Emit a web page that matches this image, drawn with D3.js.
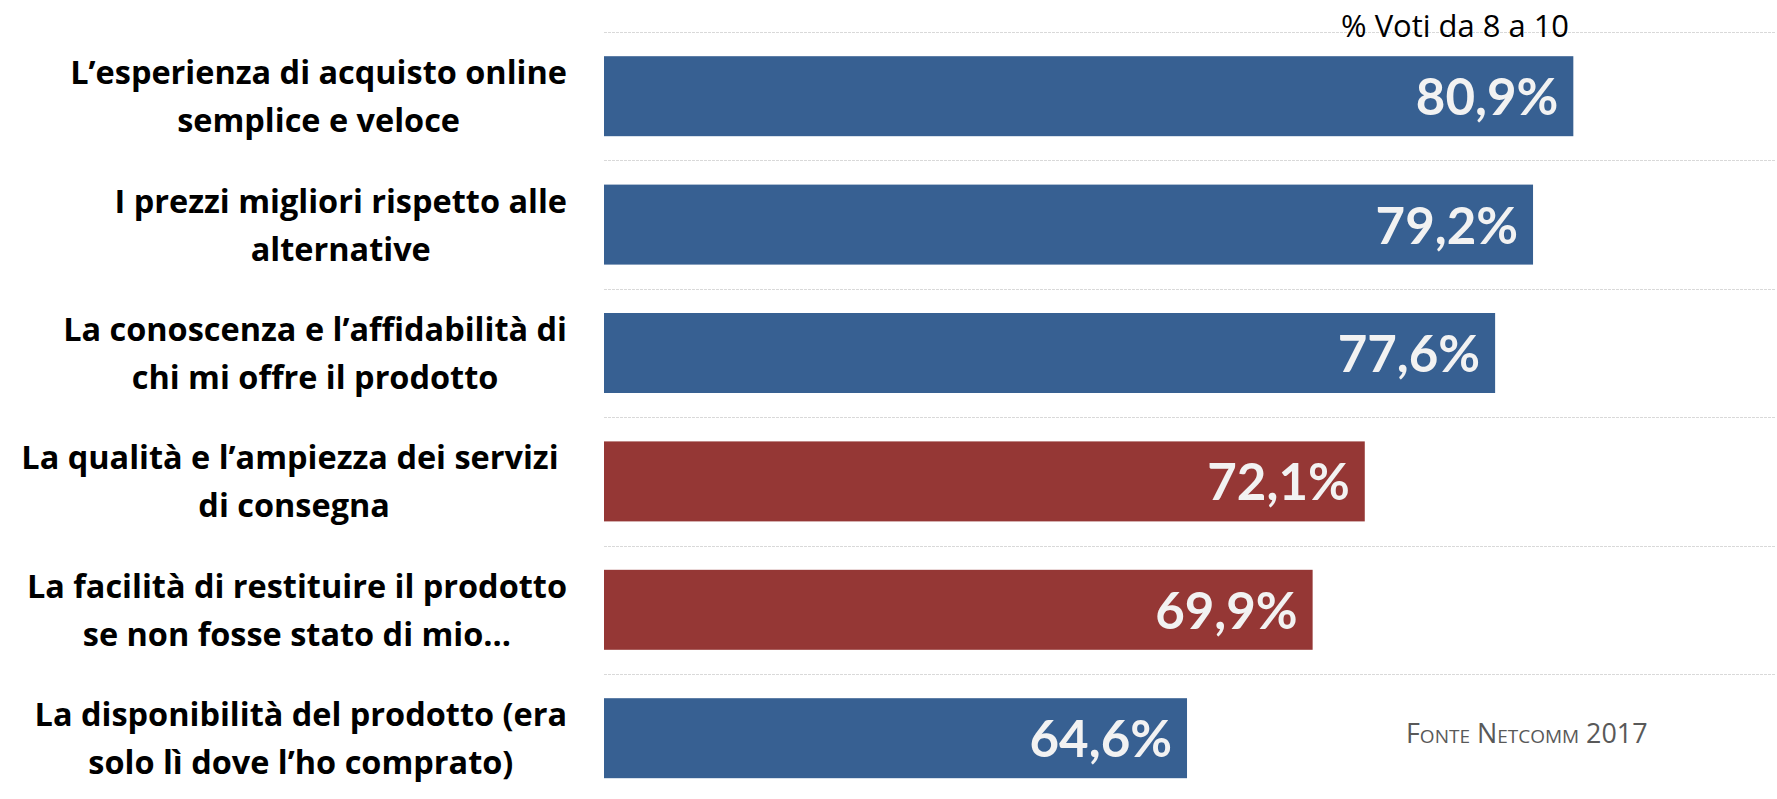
<!DOCTYPE html>
<html>
<head>
<meta charset="utf-8">
<script src="https://cdn.jsdelivr.net/npm/d3@7"></script>
<style>
  body { margin: 0; background: #fff; }
  svg { display: block; }
</style>
</head>
<body>
<div id="chart"></div>
<script>
// labels, two lines each, as on the slide
const categories = [
  ["L’esperienza di acquisto online", "semplice e veloce"],
  ["I prezzi migliori rispetto alle", "alternative"],
  ["La conoscenza e l’affidabilità di", "chi mi offre il prodotto"],
  ["La qualità e l’ampiezza dei servizi ", "di consegna"],
  ["La facilità di restituire il prodotto", "se non fosse stato di mio…"],
  ["La disponibilità del prodotto (era", "solo lì dove l’ho comprato)"]
];
const values = [80.9, 79.2, 77.6, 72.1, 69.9, 64.6];
const groups = ["blu", "blu", "blu", "rosso", "rosso", "blu"];
const xDomain = [40, 90];

const width = 1777, height = 799;
const colors = { blu: "#376092", rosso: "#953735" };

const itFmt = d3.formatLocale({ decimal: ",", thousands: ".", grouping: [3], currency: ["", "€"] }).format(".1f");

const svg = d3.select("#chart")
  .append("svg")
  .attr("width", width)
  .attr("height", height);

// scale a text's font size so its width hits a target
function fitWidth(sel, target) {
  const fs = parseFloat(sel.style("font-size"));
  const w = sel.node().getComputedTextLength();
  const nfs = fs * target / w;
  sel.style("font-size", nfs + "px");
  return nfs;
}

const pad = 0.377;
const y = d3.scaleBand()
  .domain(d3.range(values.length))
  .range([32, 802.4])
  .paddingInner(pad)
  .paddingOuter(pad / 2);

const x = d3.scaleLinear()
  .domain(xDomain)
  .range([604, 604 + 50 * 23.7]);

// dashed separators between categories
svg.append("g")
  .selectAll("line")
  .data(d3.range(values.length))
  .enter().append("line")
  .attr("x1", x(xDomain[0]))
  .attr("x2", 1776)
  .attr("y1", d => Math.round(y(d) - y.step() * pad / 2) + 0.5)
  .attr("y2", d => Math.round(y(d) - y.step() * pad / 2) + 0.5)
  .attr("stroke", "#d9d9d9")
  .attr("stroke-width", 1)
  .attr("stroke-dasharray", "3,1");

svg.append("g")
  .selectAll("rect")
  .data(values)
  .enter().append("rect")
  .attr("x", x(xDomain[0]))
  .attr("y", (d, i) => y(i))
  .attr("width", d => x(d) - x(xDomain[0]))
  .attr("height", y.bandwidth())
  .attr("fill", (d, i) => colors[groups[i]]);

svg.append("g")
  .selectAll("text")
  .data(values)
  .enter().append("text")
  .attr("x", d => x(d) - 15)
  .attr("y", (d, i) => y(i) + y.bandwidth() / 2 + 19)
  .attr("text-anchor", "end")
  .attr("fill", "#f2f2f2")
  .style("font-family", "Lato, sans-serif")
  .style("font-weight", "bold")
  .style("font-size", "51px")
  .text(d => itFmt(d) + "%");

// category labels: lines centred on each other, block pushed right
const labelRight = 567;
const lab = svg.append("g")
  .style("font-family", "'Open Sans', sans-serif")
  .style("font-weight", "bold")
  .style("font-size", "30px")
  .style("white-space", "pre")
  .attr("fill", "#000");

// size taken from the first line, which is ~497px wide in the original
const probe = lab.append("text").text(categories[0][0]);
const labFs = fitWidth(probe, 497);
probe.remove();
lab.style("font-size", labFs + "px");

categories.forEach((lines, i) => {
  const t = lab.append("text").attr("text-anchor", "middle");
  const cy = y(i) + y.bandwidth() / 2;
  lines.forEach((s, j) => {
    t.append("tspan")
      .attr("y", cy - 22 + 10 + j * 48)
      .text(s);
  });
  let w = 0;
  t.selectAll("tspan").each(function() { w = Math.max(w, this.getComputedTextLength()); });
  t.selectAll("tspan").attr("x", labelRight - w / 2);
});

const unit = svg.append("text")
  .attr("x", 1569)
  .attr("y", 37)
  .attr("text-anchor", "end")
  .attr("fill", "#000")
  .style("font-family", "'Open Sans', sans-serif")
  .style("font-size", "24px")
  .text("% Voti da 8 a 10");
fitWidth(unit, 228);

const src = svg.append("text")
  .attr("x", 1406)
  .attr("y", 743)
  .attr("fill", "#595959")
  .style("font-family", "'Open Sans', sans-serif")
  .style("font-size", "22px")
  .style("font-variant", "small-caps")
  .text("Fonte Netcomm 2017");
fitWidth(src, 237);
</script>
</body>
</html>
